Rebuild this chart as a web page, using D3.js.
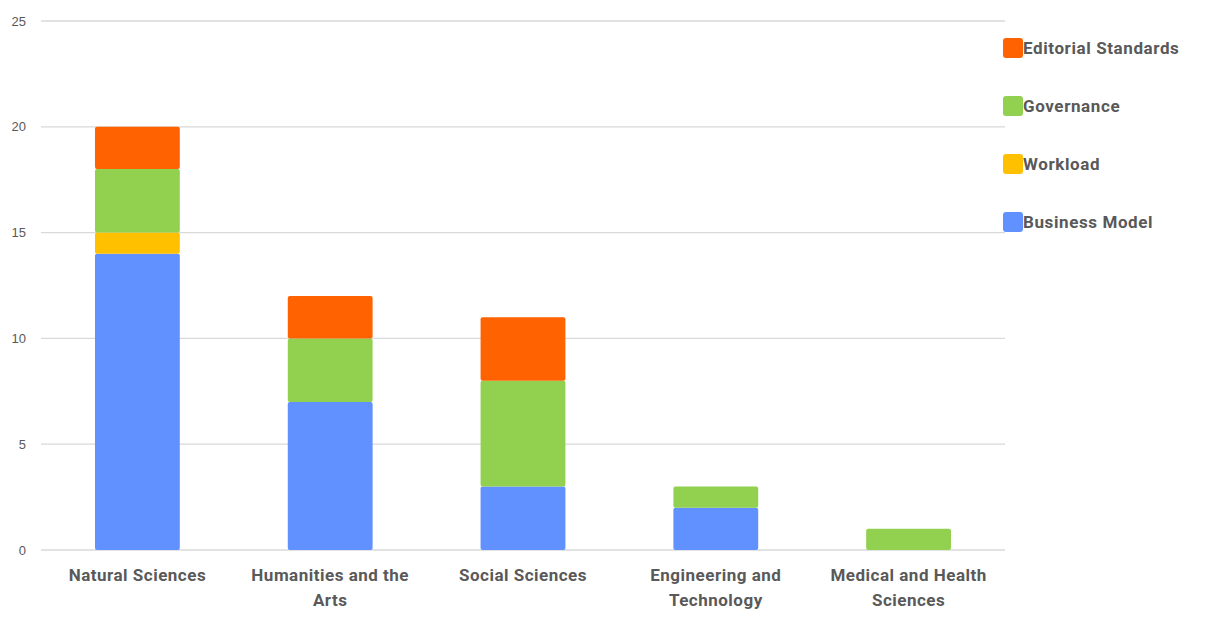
<!DOCTYPE html>
<html>
<head>
<meta charset="utf-8">
<script src="https://cdn.jsdelivr.net/npm/d3@7"></script>
<style>
  html, body { margin: 0; padding: 0; background: #fff; }
  svg { display: block; }
</style>
</head>
<body>
<div id="chart"></div>
<script>
/* --- data ---------------------------------------------------------------- */
const categories = [
  ["Natural Sciences"],
  ["Humanities and the", "Arts"],
  ["Social Sciences"],
  ["Engineering and", "Technology"],
  ["Medical and Health", "Sciences"]
];
const seriesNames   = ["Business Model", "Workload", "Governance", "Editorial Standards"];
const businessModel = [14, 7, 3, 2, 0];
const workload      = [1, 0, 0, 0, 0];
const governance    = [3, 3, 5, 1, 1];
const editorial     = [2, 2, 3, 0, 0];
const yTicks        = [0, 5, 10, 15, 20, 25];
const colors        = ["#6190ff", "#ffc000", "#92d050", "#ff6200"];

/* --- layout -------------------------------------------------------------- */
const width = 1216, height = 618;
const plot = { left: 41, right: 1005, top: 21, bottom: 550 };
const font = "'Liberation Sans Narrow', 'Roboto', 'Liberation Sans', sans-serif";
const textCol = "#595959";

const keys = categories.map(c => c.join(" "));
const rows = keys.map((k, i) => ({
  key: k,
  "Business Model": businessModel[i],
  "Workload": workload[i],
  "Governance": governance[i],
  "Editorial Standards": editorial[i]
}));
const stacked = d3.stack().keys(seriesNames)(rows);

const svg = d3.select("#chart").append("svg")
  .attr("width", width).attr("height", height);

const x = d3.scaleBand().domain(keys).range([plot.left, plot.right]).paddingInner(0.56).paddingOuter(0.28);
const y = d3.scaleLinear().domain([0, 25]).range([plot.bottom, plot.top]);

/* --- grid ---------------------------------------------------------------- */
svg.append("g")
  .selectAll("line")
  .data(yTicks)
  .join("line")
    .attr("x1", plot.left).attr("x2", plot.right)
    .attr("y1", d => y(d)).attr("y2", d => y(d))
    .attr("stroke", "#d9d9d9").attr("stroke-width", 1.3);

svg.append("g")
  .selectAll("text")
  .data(yTicks)
  .join("text")
    .attr("x", 26).attr("y", d => y(d) + 4.5)
    .attr("text-anchor", "end")
    .attr("fill", textCol)
    .style("font-family", "'Liberation Sans', Arial, sans-serif")
    .style("font-size", "13px")
    .text(d => d);

/* --- bars ---------------------------------------------------------------- */
svg.append("g")
  .selectAll("g")
  .data(stacked)
  .join("g")
    .attr("fill", (d, i) => colors[i])
  .selectAll("rect")
  .data(d => d.filter(s => s[1] - s[0] > 0))
  .join("rect")
    .attr("x", d => x(d.data.key))
    .attr("y", d => y(d[1]))
    .attr("width", x.bandwidth())
    .attr("height", d => y(d[0]) - y(d[1]))
    .attr("rx", 2);

/* --- x labels ------------------------------------------------------------ */
const xl = svg.append("g")
  .selectAll("text")
  .data(categories)
  .join("text")
    .attr("text-anchor", "middle")
    .attr("fill", textCol)
    .style("font-family", font)
    .style("font-weight", "bold")
    .style("font-size", "17px")
    .style("letter-spacing", "0.5px")
    .attr("transform", (d, i) => `translate(${x(keys[i]) + x.bandwidth() / 2},581)`);
xl.selectAll("tspan")
  .data(d => d)
  .join("tspan")
    .attr("x", 0)
    .attr("dy", (d, i) => i ? 25 : 0)
    .text(d => d);

/* --- legend -------------------------------------------------------------- */
const legendOrder = seriesNames.slice().reverse();
const lg = svg.append("g")
  .selectAll("g")
  .data(legendOrder)
  .join("g")
    .attr("transform", (d, i) => `translate(1003,${38 + i * 58})`);
lg.append("rect")
  .attr("width", 20).attr("height", 20).attr("rx", 3)
  .attr("fill", d => colors[seriesNames.indexOf(d)]);
lg.append("text")
  .attr("x", 20).attr("y", 16)
  .attr("fill", textCol)
  .style("font-family", font)
  .style("font-weight", "bold")
  .style("font-size", "17px")
  .style("letter-spacing", "0.6px")
  .text(d => d);
</script>
</body>
</html>
